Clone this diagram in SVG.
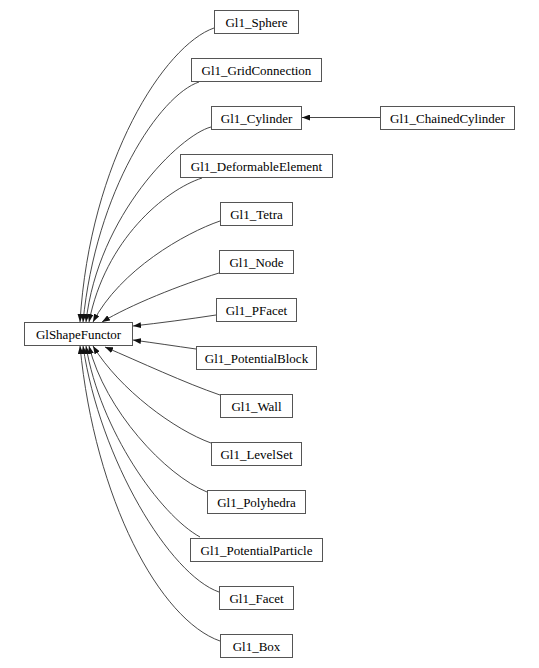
<svg xmlns="http://www.w3.org/2000/svg" width="539" height="668" viewBox="0 0 539 668">
<style>
rect.n{fill:#fff;stroke:#555;stroke-width:1}
text{font-family:"Liberation Serif","Times New Roman",serif;font-size:13px;fill:#000;text-anchor:middle}
.e{fill:none;stroke:#333;stroke-width:0.9}
</style>
<defs>
<marker id="ah" markerWidth="8" markerHeight="6" refX="8" refY="3" orient="auto" markerUnits="userSpaceOnUse">
<path d="M0,0 L8,3 L0,6 z" fill="#111"/>
</marker>
</defs>
<rect width="539" height="668" fill="#fff"/>
<g id="connectors">
<path class="e" marker-end="url(#ah)" d="M214,28 C165,45 90,160 80,322"/>
<path class="e" marker-end="url(#ah)" d="M199,82 C160,95 96,190 83,322"/>
<path class="e" marker-end="url(#ah)" d="M211,127 C180,135 98,215 86,322"/>
<path class="e" marker-end="url(#ah)" d="M202,178 C165,190 105,240 89,322"/>
<path class="e" marker-end="url(#ah)" d="M220,221 C185,233 120,270 93,322"/>
<path class="e" marker-end="url(#ah)" d="M219,273 C180,285 130,305 102,322"/>
<path class="e" marker-end="url(#ah)" d="M216,315 C190,319 160,323 133,326"/>
<path class="e" marker-end="url(#ah)" d="M196,349 C175,346 155,343 133,340"/>
<path class="e" marker-end="url(#ah)" d="M220,395 C185,383 140,362 105,347"/>
<path class="e" marker-end="url(#ah)" d="M211,443 C175,430 120,390 93,346"/>
<path class="e" marker-end="url(#ah)" d="M207,492 C165,475 105,410 89,346"/>
<path class="e" marker-end="url(#ah)" d="M200,537 C160,515 100,430 86,346"/>
<path class="e" marker-end="url(#ah)" d="M219,592 C170,575 100,460 83,346"/>
<path class="e" marker-end="url(#ah)" d="M220,641 C160,620 95,500 80,346"/>
<path class="e" marker-end="url(#ah)" d="M380,117.5 L302,117.5"/>
</g>
<g id="GlShapeFunctor"><rect class="n" x="24.5" y="322.5" width="108" height="23"/><text x="78.5" y="338.5">GlShapeFunctor</text></g>
<g id="Gl1_Sphere"><rect class="n" x="214.5" y="10.5" width="84" height="23"/><text x="256.5" y="26.5">Gl1_Sphere</text></g>
<g id="Gl1_GridConnection"><rect class="n" x="191.5" y="58.5" width="130" height="23"/><text x="256.5" y="74.5">Gl1_GridConnection</text></g>
<g id="Gl1_Cylinder"><rect class="n" x="211.5" y="106.5" width="90" height="23"/><text x="256.5" y="122.5">Gl1_Cylinder</text></g>
<g id="Gl1_ChainedCylinder"><rect class="n" x="380.5" y="106.5" width="134" height="23"/><text x="447.5" y="122.5">Gl1_ChainedCylinder</text></g>
<g id="Gl1_DeformableElement"><rect class="n" x="180.5" y="154.5" width="152" height="23"/><text x="256.5" y="170.5">Gl1_DeformableElement</text></g>
<g id="Gl1_Tetra"><rect class="n" x="220.5" y="202.5" width="72" height="23"/><text x="256.5" y="218.5">Gl1_Tetra</text></g>
<g id="Gl1_Node"><rect class="n" x="219.5" y="250.5" width="74" height="23"/><text x="256.5" y="266.5">Gl1_Node</text></g>
<g id="Gl1_PFacet"><rect class="n" x="216.5" y="298.5" width="80" height="23"/><text x="256.5" y="314.5">Gl1_PFacet</text></g>
<g id="Gl1_PotentialBlock"><rect class="n" x="196.5" y="346.5" width="120" height="23"/><text x="256.5" y="362.5">Gl1_PotentialBlock</text></g>
<g id="Gl1_Wall"><rect class="n" x="220.5" y="394.5" width="72" height="23"/><text x="256.5" y="410.5">Gl1_Wall</text></g>
<g id="Gl1_LevelSet"><rect class="n" x="211.5" y="442.5" width="90" height="23"/><text x="256.5" y="458.5">Gl1_LevelSet</text></g>
<g id="Gl1_Polyhedra"><rect class="n" x="207.5" y="490.5" width="98" height="23"/><text x="256.5" y="506.5">Gl1_Polyhedra</text></g>
<g id="Gl1_PotentialParticle"><rect class="n" x="190.5" y="538.5" width="132" height="23"/><text x="256.5" y="554.5">Gl1_PotentialParticle</text></g>
<g id="Gl1_Facet"><rect class="n" x="219.5" y="586.5" width="74" height="23"/><text x="256.5" y="602.5">Gl1_Facet</text></g>
<g id="Gl1_Box"><rect class="n" x="220.5" y="634.5" width="72" height="23"/><text x="256.5" y="650.5">Gl1_Box</text></g>
</svg>
